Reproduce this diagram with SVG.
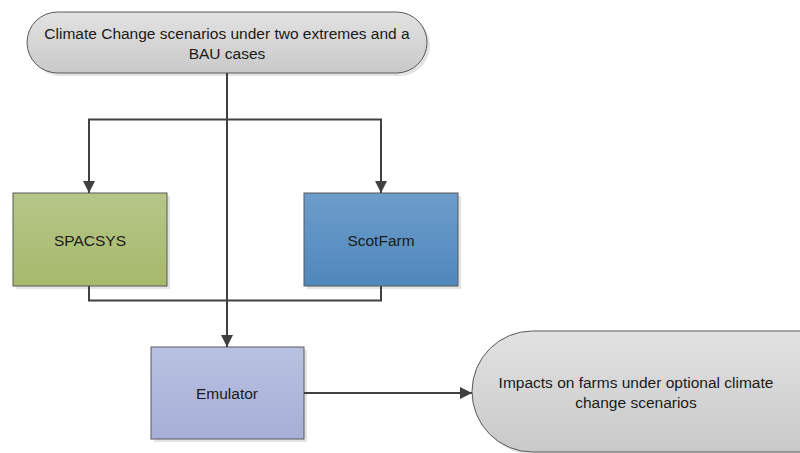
<svg xmlns="http://www.w3.org/2000/svg" width="800" height="453" viewBox="0 0 800 453">
<defs>
<linearGradient id="gGray" x1="0" y1="0" x2="0" y2="1"><stop offset="0" stop-color="#e2e2e2"/><stop offset="1" stop-color="#c9c9c9"/></linearGradient>
<linearGradient id="gGreen" x1="0" y1="0" x2="0" y2="1"><stop offset="0" stop-color="#b6c689"/><stop offset="1" stop-color="#a7b96b"/></linearGradient>
<linearGradient id="gBlue" x1="0" y1="0" x2="0" y2="1"><stop offset="0" stop-color="#6c9dcb"/><stop offset="1" stop-color="#5087bc"/></linearGradient>
<linearGradient id="gLav" x1="0" y1="0" x2="0" y2="1"><stop offset="0" stop-color="#b9c1e1"/><stop offset="1" stop-color="#a5afd7"/></linearGradient>
<marker id="arr" viewBox="0 0 12 12" refX="12" refY="6" markerWidth="12" markerHeight="12" markerUnits="userSpaceOnUse" orient="auto"><path d="M0,0 L12,6 L0,12 z" fill="#404040"/></marker>
</defs>
<style>
.sh{fill:#e3e3e3}
.nd{stroke:#595959;stroke-width:1}
.t{font-family:"Liberation Sans",Arial,sans-serif;font-size:15.5px;fill:#1a1a1a;text-anchor:middle;dominant-baseline:central}
.c{fill:none;stroke:#404040;stroke-width:2}
</style>
<rect width="800" height="453" fill="#fff"/>
<g id="top">
<rect class="sh" x="30" y="15" width="400" height="61" rx="30.5"/>
<rect class="nd" x="27" y="12" width="400" height="61" rx="30.5" fill="url(#gGray)"/>
<text class="t" x="227" y="33">Climate Change scenarios under two extremes and a</text>
<text class="t" x="227" y="53">BAU  cases</text>
</g>
<g id="spacsys">
<rect class="sh" x="16" y="196" width="154" height="93"/>
<rect class="nd" x="13" y="193" width="154" height="93" fill="url(#gGreen)"/>
<text class="t" x="90" y="240">SPACSYS</text>
</g>
<g id="scotfarm">
<rect class="sh" x="307" y="196" width="154" height="93"/>
<rect class="nd" x="304" y="193" width="154" height="93" fill="url(#gBlue)"/>
<text class="t" x="381" y="240">ScotFarm</text>
</g>
<g id="emulator">
<rect class="sh" x="154" y="350" width="153" height="92"/>
<rect class="nd" x="151" y="347" width="153" height="92" fill="url(#gLav)"/>
<text class="t" x="227" y="393">Emulator</text>
</g>
<g id="impacts">
<rect class="sh" x="475" y="334" width="398" height="121" rx="60.5"/>
<rect class="nd" x="472" y="331" width="398" height="121" rx="60.5" fill="url(#gGray)"/>
<text class="t" x="636" y="382">Impacts on farms under optional climate</text>
<text class="t" x="636" y="402">change scenarios</text>
</g>
<g id="connectors">
<path class="c" d="M227,73 V347" marker-end="url(#arr)"/>
<path class="c" d="M227,119.5 H89 V193" marker-end="url(#arr)"/>
<path class="c" d="M227,119.5 H381 V193" marker-end="url(#arr)"/>
<path class="c" d="M89,286 V300.5 H381 V286"/>
<path class="c" d="M304,393 H472" marker-end="url(#arr)"/>
</g>
</svg>
